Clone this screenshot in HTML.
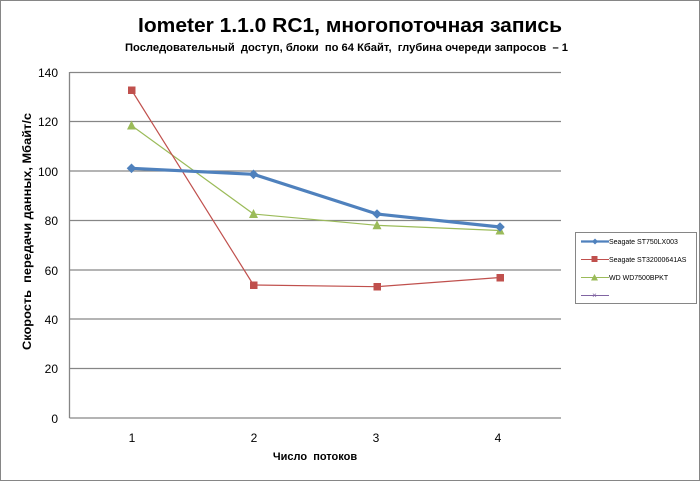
<!DOCTYPE html>
<html><head><meta charset="utf-8"><style>
html,body{margin:0;padding:0;background:#fff;}
svg{display:block;}
</style></head><body>
<svg width="700" height="481" viewBox="0 0 700 481" xmlns="http://www.w3.org/2000/svg">
<rect x="0.5" y="0.5" width="699" height="480" fill="#fff" stroke="#868686" stroke-width="1"/>
<text x="138" y="32" textLength="424" lengthAdjust="spacingAndGlyphs" font-family="Liberation Sans, sans-serif" font-size="20.5" font-weight="bold" fill="#000">Iometer 1.1.0 RC1, многопоточная запись</text>
<text x="125" y="51" textLength="443" lengthAdjust="spacingAndGlyphs" font-family="Liberation Sans, sans-serif" font-size="11.3" font-weight="bold" fill="#000" xml:space="preserve">Последовательный  доступ, блоки  по 64 Кбайт,  глубина очереди запросов  – 1</text>
<g stroke="#868686" stroke-width="1.3">
<line x1="70" y1="72.5" x2="561" y2="72.5"/>
<line x1="70" y1="121.5" x2="561" y2="121.5"/>
<line x1="70" y1="171" x2="561" y2="171"/>
<line x1="70" y1="220.5" x2="561" y2="220.5"/>
<line x1="70" y1="270" x2="561" y2="270"/>
<line x1="70" y1="319" x2="561" y2="319"/>
<line x1="70" y1="368.5" x2="561" y2="368.5"/>
<line x1="69.5" y1="418" x2="561" y2="418"/>
<line x1="69.5" y1="72" x2="69.5" y2="418"/>
</g>
<g font-family="Liberation Sans, sans-serif" font-size="12" fill="#000" text-anchor="end">
<text x="58" y="77">140</text>
<text x="58" y="126">120</text>
<text x="58" y="176">100</text>
<text x="58" y="225">80</text>
<text x="58" y="275">60</text>
<text x="58" y="324">40</text>
<text x="58" y="373">20</text>
<text x="58" y="423">0</text>
</g>
<g font-family="Liberation Sans, sans-serif" font-size="12" fill="#000" text-anchor="middle">
<text x="132" y="442">1</text>
<text x="254" y="442">2</text>
<text x="376" y="442">3</text>
<text x="498" y="442">4</text>
</g>
<text x="315" y="460" text-anchor="middle" font-family="Liberation Sans, sans-serif" font-size="11" font-weight="bold" fill="#000" xml:space="preserve">Число  потоков</text>
<text transform="translate(31,350) rotate(-90)" textLength="237" lengthAdjust="spacingAndGlyphs" font-family="Liberation Sans, sans-serif" font-size="12" font-weight="bold" fill="#000" xml:space="preserve">Скорость  передачи данных, Мбайт/с</text>
<!-- green -->
<polyline points="131.5,125.5 253.5,214 377,225.3 500,230.5" fill="none" stroke="#9bbb59" stroke-width="1.2"/>
<g fill="#9bbb59">
<polygon points="131.5,120.5 136,129.5 127,129.5"/>
<polygon points="253.5,209 258,218 249,218"/>
<polygon points="377,220.3 381.5,229.3 372.5,229.3"/>
<polygon points="500,225.5 504.5,234.5 495.5,234.5"/>
</g>
<!-- red -->
<polyline points="131.5,90 253.5,285 377,286.7 500,277.5" fill="none" stroke="#c0504d" stroke-width="1.2"/>
<g fill="#c0504d">
<rect x="128" y="86.5" width="7.5" height="7.5"/>
<rect x="250" y="281.5" width="7.5" height="7.5"/>
<rect x="373.5" y="283" width="7.5" height="7.5"/>
<rect x="496.5" y="274" width="7.5" height="7.5"/>
</g>
<!-- blue -->
<polyline points="131.5,168.3 253.5,174.3 377,214 500,227" fill="none" stroke="#4f81bd" stroke-width="3.2" stroke-linejoin="round"/>
<g fill="#4f81bd">
<polygon points="131.5,163.5 136.3,168.3 131.5,173.1 126.7,168.3"/>
<polygon points="253.5,169.5 258.3,174.3 253.5,179.1 248.7,174.3"/>
<polygon points="377,209.2 381.8,214 377,218.8 372.2,214"/>
<polygon points="500,222.2 504.8,227 500,231.8 495.2,227"/>
</g>
<!-- legend -->
<rect x="575.5" y="232.5" width="121" height="71" fill="#fff" stroke="#868686" stroke-width="1"/>
<g font-family="Liberation Sans, sans-serif" font-size="7" fill="#000">
<line x1="581" y1="241.5" x2="609" y2="241.5" stroke="#4f81bd" stroke-width="2.2"/>
<polygon points="595,238.5 598,241.5 595,244.5 592,241.5" fill="#4f81bd"/>
<text x="609" y="244">Seagate ST750LX003</text>
<line x1="581" y1="259.5" x2="609" y2="259.5" stroke="#c0504d" stroke-width="1"/>
<rect x="591.5" y="256" width="6" height="6" fill="#c0504d"/>
<text x="609" y="262">Seagate ST32000641AS</text>
<line x1="581" y1="277.5" x2="609" y2="277.5" stroke="#9bbb59" stroke-width="1"/>
<polygon points="594.5,274 598,280.5 591,280.5" fill="#9bbb59"/>
<text x="609" y="280">WD WD7500BPKT</text>
<line x1="581" y1="295.5" x2="609" y2="295.5" stroke="#8064a2" stroke-width="1"/>
<text x="594.5" y="298" text-anchor="middle" font-size="8" fill="#8064a2">×</text>
</g>
</svg>
</body></html>
